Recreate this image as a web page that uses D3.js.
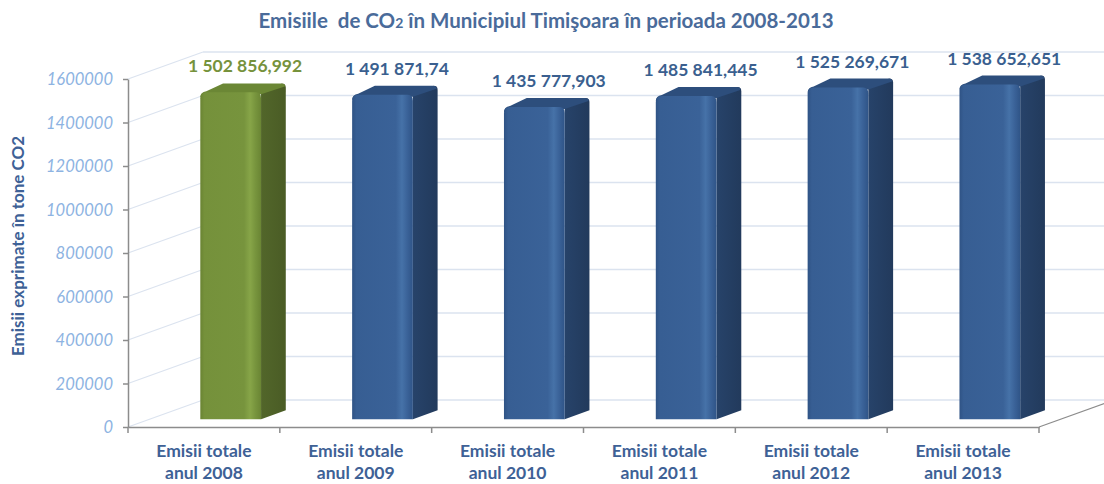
<!DOCTYPE html>
<html><head><meta charset="utf-8">
<script src="https://cdn.jsdelivr.net/npm/d3@7"></script>
<style>body{margin:0;background:#fff}svg{display:block}</style>
</head><body><svg id="c" width="1104" height="484"></svg>
<script>
const categories = ["Emisii totale|anul 2008","Emisii totale|anul 2009","Emisii totale|anul 2010","Emisii totale|anul 2011","Emisii totale|anul 2012","Emisii totale|anul 2013"];
const values = [1502856.992,1491871.74,1435777.903,1485841.445,1525269.671,1538652.651];
const valueLabels = ["1 502 856,992","1 491 871,74","1 435 777,903","1 485 841,445","1 525 269,671","1 538 652,651"];
const yTicks = [0,200000,400000,600000,800000,1000000,1200000,1400000,1600000];
const highlighted = [true,false,false,false,false,false];

const svg = d3.select("#c");
const font = "Lato, 'Open Sans', sans-serif";
const DX = 75, DY = -27;          // full depth offset
const fF = 0.29, fB = 0.62;       // bar front/back depth fractions
const x = d3.scaleBand().domain(categories).range([128,1039]).paddingInner(0).paddingOuter(0);
const y = d3.scaleLinear().domain([0,1600000]).range([427,79]);

const defs = svg.append("defs");
function grad(id, stops){
  const g = defs.append("linearGradient").attr("id",id).attr("x1","0").attr("x2","1").attr("y1","0").attr("y2","0");
  stops.forEach(s=>g.append("stop").attr("offset",s[0]).attr("stop-color",s[1]));
}
grad("bf",[[0,"#2f5385"],[0.07,"#375e93"],[0.72,"#3a6298"],[0.82,"#4672a8"],[0.91,"#3a6298"],[1,"#2f5487"]]);
grad("gf",[[0,"#6a8433"],[0.07,"#75913b"],[0.72,"#77943d"],[0.82,"#87a548"],[0.91,"#77943d"],[1,"#6a8534"]]);
grad("bs",[[0,"#27436a"],[1,"#223a5c"]]);
grad("gs",[[0,"#52662a"],[1,"#4a5c25"]]);

const gridC = "#dbe3ef";
yTicks.forEach(t=>{
  svg.append("line").attr("x1",128).attr("y1",y(t)).attr("x2",128+DX).attr("y2",y(t)+DY)
    .attr("stroke",gridC).attr("stroke-width",1.2);
  svg.append("line").attr("x1",128+DX).attr("y1",y(t)+DY).attr("x2",1104).attr("y2",y(t)+DY)
    .attr("stroke",gridC).attr("stroke-width",1.6);
});

const bw = x.bandwidth()*0.4;
categories.forEach((c,i)=>{
  const v = values[i];
  const cx = x(c)+x.bandwidth()/2 + 5;
  const x0 = cx - bw/2 + DX*fF, x1 = cx + bw/2 + DX*fF;
  const yb = y(0) + DY*fF, yt = y(v) + DY*fF;
  const ddx = DX*(fB-fF), ddy = DY*(fB-fF);
  const g = svg.append("g");
  const hl = highlighted[i];
  g.append("path").attr("d",`M${x1},${yb} L${x1+ddx},${yb+ddy} L${x1+ddx},${yt+ddy+4} Q${x1+ddx},${yt+ddy} ${x1+ddx-4},${yt+ddy} L${x1},${yt} Z`)
    .attr("fill",`url(#${hl?"gs":"bs"})`);
  g.append("path").attr("d",`M${x0},${yt+5} Q${x0},${yt} ${x0+6},${yt-1} L${x0+ddx-2},${yt+ddy} L${x1+ddx-5},${yt+ddy} Q${x1+ddx},${yt+ddy} ${x1+ddx-1},${yt+ddy+3} L${x1},${yt+2} Z`)
    .attr("fill",hl?"#6b8735":"#2d4e7c");
  g.append("path").attr("d",`M${x0},${yb} L${x0},${yt+6} Q${x0},${yt} ${x0+6},${yt} L${x1-5},${yt} Q${x1},${yt} ${x1},${yt+6} L${x1},${yb} Z`)
    .attr("fill",`url(#${hl?"gf":"bf"})`);
  svg.append("text").attr("x",cx+DX*fF+ddx/2+2).attr("y",yt+ddy-11)
    .attr("text-anchor","middle").attr("font-family",font).attr("font-weight","bold")
    .attr("font-size",17.5).attr("fill",hl?"#76923c":"#3a5f8f").text(valueLabels[i]);
});

const axC = "#8c8c8c";
const ya = svg.append("g").attr("transform","translate(128,0)")
  .call(d3.axisLeft(y).tickValues(yTicks).tickFormat(d3.format("d")).tickSize(5).tickSizeOuter(0));
ya.select(".domain").attr("stroke",axC).attr("stroke-width",1.5);
ya.selectAll(".tick line").attr("stroke",axC).attr("stroke-width",1.5);
ya.selectAll(".tick text").attr("x",-15).attr("font-family",font).attr("font-style","italic")
  .attr("font-size",16.5).attr("fill","#8db3e2").attr("dy","0.35em");

const xa = svg.append("g").attr("transform","translate(0,427)")
  .call(d3.axisBottom(x).tickSize(0).tickFormat(""));
xa.select(".domain").attr("stroke",axC).attr("stroke-width",1.5);
const bounds = categories.map(c=>x(c)).concat([x.range()[1]]);
bounds.forEach(b=>svg.append("line").attr("x1",b).attr("x2",b).attr("y1",427).attr("y2",433).attr("stroke",axC).attr("stroke-width",1.5));
svg.append("line").attr("x1",1039).attr("y1",427).attr("x2",1039+DX).attr("y2",427+DY).attr("stroke",axC).attr("stroke-width",1.2);

categories.forEach(c=>{
  const parts = c.split("|");
  const t = svg.append("text").attr("text-anchor","middle").attr("font-family",font).attr("font-weight","bold")
    .attr("font-size",17.5).attr("fill","#3e6196");
  parts.forEach((p,k)=>t.append("tspan").attr("x",x(c)+x.bandwidth()/2).attr("y",457+k*22).text(p));
});

svg.append("text").attr("transform","translate(24,246) rotate(-90)").attr("text-anchor","middle")
  .attr("font-family",font).attr("font-weight","bold").attr("font-size",17).attr("fill","#3e6196")
  .text("Emisii exprimate în tone CO2");

const tt = svg.append("text").attr("x",546).attr("y",28).attr("text-anchor","middle")
  .attr("xml:space","preserve").style("white-space","pre")
  .attr("font-family",font).attr("font-weight","bold").attr("font-size",20.5).attr("fill","#4a6b9a");
tt.append("tspan").text("Emisiile  de CO");
tt.append("tspan").attr("font-size",14).text("2");
tt.append("tspan").text(" în Municipiul Timişoara în perioada 2008-2013");
</script></body></html>
